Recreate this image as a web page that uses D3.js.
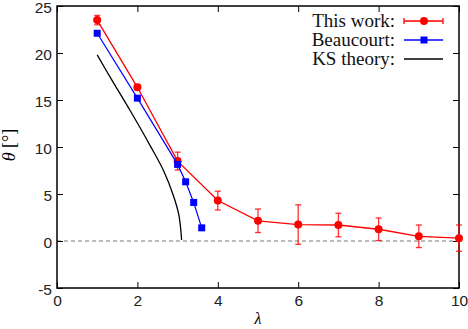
<!DOCTYPE html>
<html>
<head>
<meta charset="utf-8">
<script src="https://cdn.jsdelivr.net/npm/d3@7"></script>
<style>
  body { margin: 0; background: #fff; }
  svg { display: block; }
  .tick text { font-family: "Liberation Sans", Arial, sans-serif; font-size: 15.5px; fill: #222; }
</style>
</head>
<body>
<svg id="chart" width="468" height="329"></svg>
<script>
// this work
const lambdaWork = [1, 2, 3, 4, 5, 6, 7, 8, 9, 10];
const thetaWork = [23.5, 16.35, 8.5, 4.3, 2.15, 1.75, 1.7, 1.25, 0.5, 0.3];
const errWork = [0.5, 0.3, 0.95, 1.0, 1.25, 2.1, 1.25, 1.2, 1.2, 1.4];

// Beaucourt
const lambdaBeau = [1, 2, 3, 3.2, 3.4, 3.6];
const thetaBeau = [22.1, 15.2, 8.15, 6.3, 4.1, 1.4];

// KS theory curve
const lambdaKS = [1.0, 1.34, 1.83, 2.31, 2.66, 2.89, 3.03, 3.1];
const thetaKS = [19.8, 17.3, 13.8, 10.2, 7.4, 4.9, 2.8, 0.1];

const xTicks = [0, 2, 4, 6, 8, 10];
const yTicks = [-5, 0, 5, 10, 15, 20, 25];

const svg = d3.select('#chart');
const plotL = 57, plotR = 459, plotT = 6, plotB = 288;

const x = d3.scaleLinear().domain([0, 10]).range([plotL, plotR]);
const y = d3.scaleLinear().domain([-5, 25]).range([plotB, plotT]);

// zero line
svg.append('line')
    .attr('x1', x(0)).attr('x2', x(10))
    .attr('y1', y(0)).attr('y2', y(0))
    .attr('stroke', '#777')
    .attr('stroke-width', 1)
    .attr('stroke-dasharray', '4,3');

// axes, ticks pointing inward
const tickLen = 6;
const xAxis = svg.append('g')
    .attr('transform', `translate(0,${plotB})`)
    .call(d3.axisBottom(x).tickValues(xTicks).tickSizeInner(-tickLen).tickSizeOuter(0).tickPadding(7));
const xAxisTop = svg.append('g')
    .attr('transform', `translate(0,${plotT})`)
    .call(d3.axisTop(x).tickValues(xTicks).tickSizeInner(-tickLen).tickSizeOuter(0).tickFormat(''));
const yAxis = svg.append('g')
    .attr('transform', `translate(${plotL},0)`)
    .call(d3.axisLeft(y).tickValues(yTicks).tickSizeInner(-tickLen).tickSizeOuter(0).tickPadding(5)
        .tickFormat(d => String(d)));
const yAxisRight = svg.append('g')
    .attr('transform', `translate(${plotR},0)`)
    .call(d3.axisRight(y).tickValues(yTicks).tickSizeInner(-tickLen).tickSizeOuter(0).tickFormat(''));

[xAxis, xAxisTop, yAxis, yAxisRight].forEach(g => {
    g.select('.domain').remove();
    g.selectAll('.tick line').attr('stroke', '#000').attr('stroke-width', 1);
});
yAxis.selectAll('.tick text').attr('dy', '0.42em');

// frame
svg.append('rect')
    .attr('x', plotL).attr('y', plotT)
    .attr('width', plotR - plotL).attr('height', plotB - plotT)
    .attr('fill', 'none')
    .attr('stroke', '#000')
    .attr('stroke-width', 1.5);

// axis labels
svg.append('text')
    .attr('x', x(5)).attr('y', 324)
    .attr('text-anchor', 'middle')
    .attr('font-family', '"Liberation Serif", serif')
    .attr('font-style', 'italic')
    .attr('font-size', 16)
    .text('λ');

svg.append('text')
    .attr('transform', 'translate(15,145) rotate(-90)')
    .attr('text-anchor', 'middle')
    .attr('font-family', '"Liberation Serif", serif')
    .attr('font-size', 18)
    .call(t => {
        t.append('tspan').attr('font-style', 'italic').text('θ');
        t.append('tspan').text(' [°]');
    });

// KS theory
const lineKS = d3.line()
    .x((d, i) => x(lambdaKS[i]))
    .y(d => y(d))
    .curve(d3.curveCatmullRom);
svg.append('path')
    .attr('d', lineKS(thetaKS))
    .attr('fill', 'none')
    .attr('stroke', '#000')
    .attr('stroke-width', 1.3);

// this work
const red = '#ff0000';
const lineWork = d3.line().x((d, i) => x(lambdaWork[i])).y(d => y(d));
svg.append('path')
    .attr('d', lineWork(thetaWork))
    .attr('fill', 'none')
    .attr('stroke', red)
    .attr('stroke-width', 1.3);

const cap = 3;
const err = svg.append('g').attr('stroke', red).attr('stroke-opacity', 0.8).attr('stroke-width', 1.3);
thetaWork.forEach((v, i) => {
    const cx = x(lambdaWork[i]);
    const y1 = y(v - errWork[i]), y2 = y(v + errWork[i]);
    err.append('line').attr('x1', cx).attr('x2', cx).attr('y1', y1).attr('y2', y2);
    err.append('line').attr('x1', cx - cap).attr('x2', cx + cap).attr('y1', y1).attr('y2', y1);
    err.append('line').attr('x1', cx - cap).attr('x2', cx + cap).attr('y1', y2).attr('y2', y2);
});

svg.append('g')
    .selectAll('circle')
    .data(thetaWork)
    .join('circle')
    .attr('cx', (d, i) => x(lambdaWork[i]))
    .attr('cy', d => y(d))
    .attr('r', 4)
    .attr('fill', red);

// Beaucourt
const blue = '#0000ff';
const lineBeau = d3.line().x((d, i) => x(lambdaBeau[i])).y(d => y(d));
svg.append('path')
    .attr('d', lineBeau(thetaBeau))
    .attr('fill', 'none')
    .attr('stroke', blue)
    .attr('stroke-width', 1.2);

const sq = 7;
svg.append('g')
    .selectAll('rect')
    .data(thetaBeau)
    .join('rect')
    .attr('x', (d, i) => x(lambdaBeau[i]) - sq / 2)
    .attr('y', d => y(d) - sq / 2)
    .attr('width', sq)
    .attr('height', sq)
    .attr('fill', blue);

// legend
const legend = svg.append('g').attr('font-family', '"Liberation Serif", serif').attr('font-size', 19);
const items = [
    { label: 'This work:', color: red, mark: 'circle', bars: true },
    { label: 'Beaucourt:', color: blue, mark: 'square', bars: false },
    { label: 'KS theory:', color: '#000', mark: null, bars: false }
];
items.forEach((it, i) => {
    const cy = 21 + i * 19;
    legend.append('text')
        .attr('x', 395).attr('y', cy)
        .attr('dy', '0.33em')
        .attr('text-anchor', 'end')
        .attr('fill', '#111')
        .text(it.label);
    legend.append('line')
        .attr('x1', 404).attr('x2', 443)
        .attr('y1', cy).attr('y2', cy)
        .attr('stroke', it.color)
        .attr('stroke-width', 1.3);
    if (it.bars) {
        [404, 443].forEach(bx => legend.append('line')
            .attr('x1', bx).attr('x2', bx)
            .attr('y1', cy - cap).attr('y2', cy + cap)
            .attr('stroke', it.color).attr('stroke-width', 1.3));
    }
    if (it.mark === 'circle') {
        legend.append('circle').attr('cx', 424).attr('cy', cy).attr('r', 4).attr('fill', it.color);
    } else if (it.mark === 'square') {
        legend.append('rect').attr('x', 424 - sq / 2).attr('y', cy - sq / 2)
            .attr('width', sq).attr('height', sq).attr('fill', it.color);
    }
});
</script>
</body>
</html>
